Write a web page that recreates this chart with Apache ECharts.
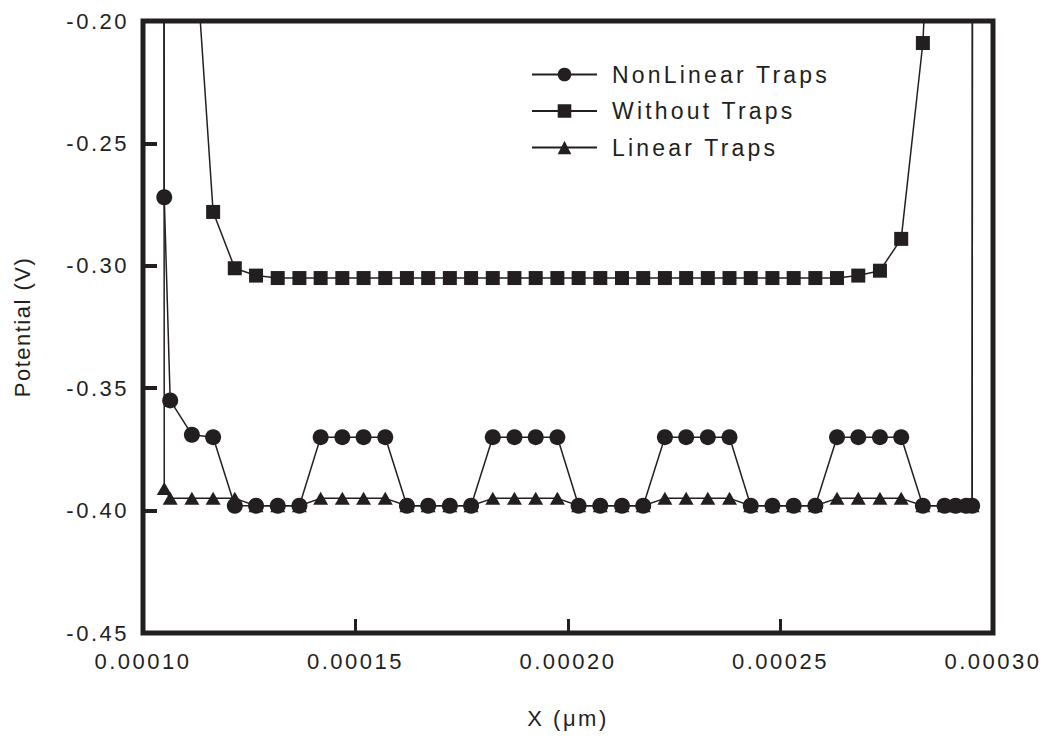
<!DOCTYPE html>
<html>
<head>
<meta charset="utf-8">
<script src="https://cdn.jsdelivr.net/npm/echarts@6/dist/echarts.min.js"></script>
<style>
html,body{margin:0;padding:0;background:#fff}
#c{width:1049px;height:738px}
#c text{letter-spacing:2.5px}
</style>
</head>
<body>
<div id="c"></div>
<script>
// X positions (m)
const xValues = [
  1.049e-4, 1.050e-4, 1.064e-4, 1.115e-4, 1.165e-4, 1.216e-4, 1.266e-4, 1.317e-4, 1.368e-4,
  1.418e-4, 1.469e-4, 1.519e-4, 1.570e-4, 1.621e-4, 1.671e-4, 1.722e-4, 1.772e-4,
  1.823e-4, 1.874e-4, 1.924e-4, 1.975e-4, 2.025e-4, 2.076e-4, 2.127e-4, 2.177e-4,
  2.228e-4, 2.278e-4, 2.329e-4, 2.380e-4, 2.430e-4, 2.481e-4, 2.531e-4, 2.582e-4,
  2.633e-4, 2.683e-4, 2.734e-4, 2.784e-4, 2.835e-4, 2.886e-4, 2.912e-4, 2.937e-4,
  2.951e-4, 2.952e-4
];
const nonLinearTraps = [
  0.0, -0.272, -0.355, -0.369, -0.370, -0.398, -0.398, -0.398, -0.398,
  -0.370, -0.370, -0.370, -0.370, -0.398, -0.398, -0.398, -0.398,
  -0.370, -0.370, -0.370, -0.370, -0.398, -0.398, -0.398, -0.398,
  -0.370, -0.370, -0.370, -0.370, -0.398, -0.398, -0.398, -0.398,
  -0.370, -0.370, -0.370, -0.370, -0.398, -0.398, -0.398, -0.398,
  -0.398, 0.0
];
const withoutTraps = [
  0.0, -0.010, -0.050, -0.149, -0.278, -0.301, -0.304, -0.305, -0.305,
  -0.305, -0.305, -0.305, -0.305, -0.305, -0.305, -0.305, -0.305,
  -0.305, -0.305, -0.305, -0.305, -0.305, -0.305, -0.305, -0.305,
  -0.305, -0.305, -0.305, -0.305, -0.305, -0.305, -0.305, -0.305,
  -0.305, -0.304, -0.302, -0.289, -0.209, -0.017, 0.0, 0.0,
  0.0, 0.0
];
const linearTraps = [
  0.0, -0.391, -0.395, -0.395, -0.395, -0.395, -0.398, -0.398, -0.398,
  -0.395, -0.395, -0.395, -0.395, -0.398, -0.398, -0.398, -0.398,
  -0.395, -0.395, -0.395, -0.395, -0.398, -0.398, -0.398, -0.398,
  -0.395, -0.395, -0.395, -0.395, -0.398, -0.398, -0.398, -0.398,
  -0.395, -0.395, -0.395, -0.395, -0.398, -0.398, -0.398, -0.398,
  -0.398, 0.0
];
const seriesNames = ['NonLinear Traps', 'Without Traps', 'Linear Traps'];
const xTickLabels = ['0.00010', '0.00015', '0.00020', '0.00025', '0.00030'];
const yTickLabels = ['-0.45', '-0.40', '-0.35', '-0.30', '-0.25', '-0.20'];

const INK = '#231f20';
const FONT = '"Liberation Sans", Arial, sans-serif';
const pairs = ys => xValues.map((x, i) => [x, ys[i]]);

const chart = echarts.init(document.getElementById('c'), null, {renderer: 'svg', width: 1049, height: 738});

function mkSeries(name, ys, symbol, size) {
  return {
    name: name, type: 'line', data: pairs(ys),
    symbol: symbol, symbolSize: size, showSymbol: true, clip: true,
    itemStyle: {color: INK}, lineStyle: {color: INK, width: 1.5},
    emphasis: {disabled: true}
  };
}

chart.on('finished', function () {
  document.querySelectorAll('#c text').forEach(function (t) {
    if (seriesNames.indexOf(t.textContent) >= 0) t.style.letterSpacing = '3.2px';
    if (t.textContent === 'Potential (V)') t.style.letterSpacing = '1.5px';
  });
});

chart.setOption({
  animation: false,
  backgroundColor: '#fff',
  grid: {left: 143, right: 56, top: 21, bottom: 105, show: true, borderColor: INK, borderWidth: 5},
  legend: {
    orient: 'vertical', left: 526, top: 58, itemWidth: 65, itemHeight: 17, itemGap: 13.5,
    data: seriesNames,
    textStyle: {fontFamily: FONT, fontSize: 23, color: INK, padding: [0, 0, 0, 10]}
  },
  xAxis: {
    type: 'value', min: 0.0001, max: 0.0003, interval: 0.00005,
    axisLine: {show: false, onZero: false},
    axisTick: {show: true, inside: true, length: 14, lineStyle: {color: INK, width: 3}},
    splitLine: {show: false},
    axisLabel: {
      margin: 17, fontFamily: FONT, fontSize: 22, color: INK,
      formatter: v => xTickLabels[Math.round((v - 0.0001) / 0.00005)]
    },
    name: 'X (\u03bcm)', nameLocation: 'middle', nameGap: 74,
    nameTextStyle: {fontFamily: FONT, fontSize: 22, color: INK}
  },
  yAxis: {
    type: 'value', min: -0.45, max: -0.20, interval: 0.05,
    axisLine: {show: false, onZero: false},
    axisTick: {show: true, inside: true, length: 14, lineStyle: {color: INK, width: 4}},
    splitLine: {show: false},
    axisLabel: {
      margin: 14, fontFamily: FONT, fontSize: 22, color: INK,
      formatter: v => yTickLabels[Math.round((v + 0.45) / 0.05)]
    },
    name: 'Potential (V)', nameLocation: 'middle', nameGap: 110, nameRotate: 90,
    nameTextStyle: {fontFamily: FONT, fontSize: 22, color: INK}
  },
  series: [
    mkSeries(seriesNames[0], nonLinearTraps, 'circle', 16),
    mkSeries(seriesNames[1], withoutTraps, 'rect', 14),
    mkSeries(seriesNames[2], linearTraps, 'triangle', [15, 13])
  ]
});
</script>
</body>
</html>
